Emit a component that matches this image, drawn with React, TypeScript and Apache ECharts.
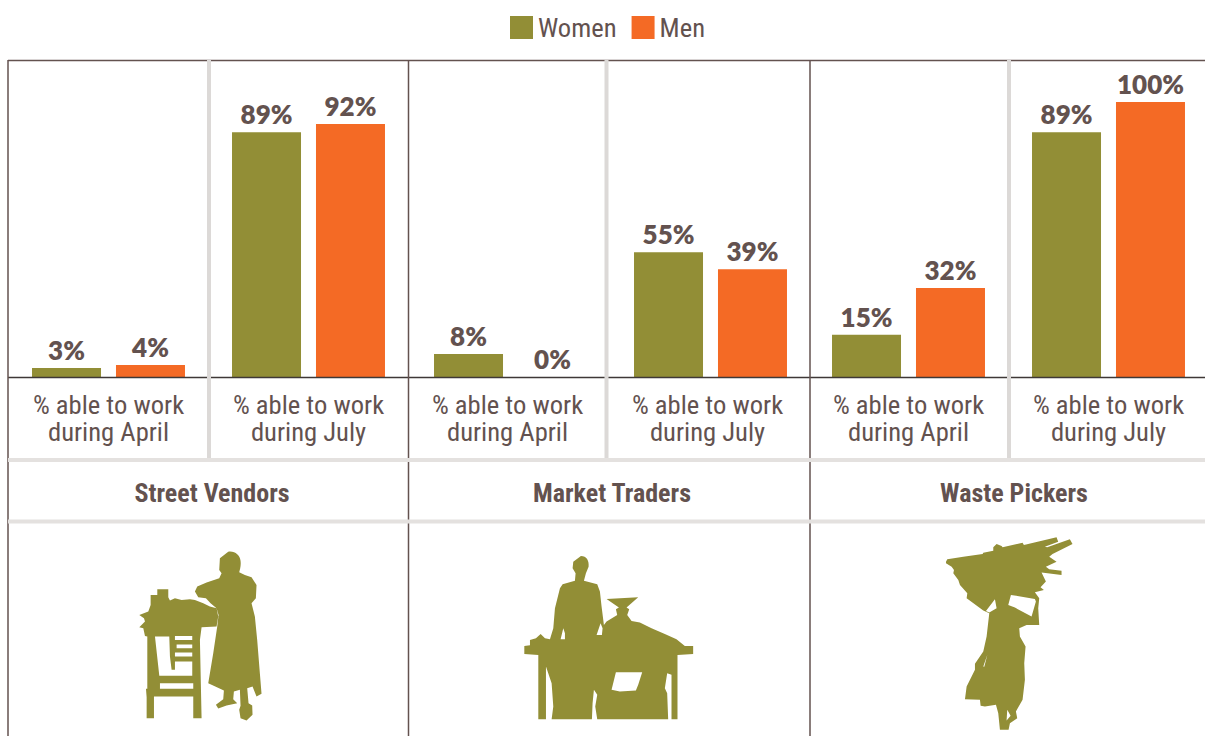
import React, { useEffect, useRef } from "react";
import * as echarts from "echarts";

const periods = [
  "% able to work\nduring April",
  "% able to work\nduring July",
  "% able to work\nduring April",
  "% able to work\nduring July",
  "% able to work\nduring April",
  "% able to work\nduring July",
];
const womenValues = [3.3, 89, 8.4, 45.4, 15.4, 89];
const menValues = [4.4, 92, 0, 39.2, 32.4, 100];
const womenLabels = ["3%", "89%", "8%", "55%", "15%", "89%"];
const menLabels = ["4%", "92%", "0%", "39%", "32%", "100%"];
const sectors = ["Street Vendors", "Market Traders", "Waste Pickers"];
const panelCentres = [108.5, 308.5, 510.5, 710.5, 908.5, 1108.5];
const labelShifts = [0, 0, 6, 6, 0, 0];
const sectorCentres = [212, 612, 1014];

const OLIVE = "#928e36";
const ORANGE = "#f46a25";
const TEXT = "#63524f";
const GREY = "#dcd9d7";
const GREY_LIGHT = "#e4e1df";
const NARROW = '"Roboto Condensed", "Roboto", sans-serif';

const vendorPath =
  "M325 35C345 32 360 45 362 62C364 78 360 88 358 97L375 105L395 112L410 135L408 175L395 190L405 230L412 300L420 400L425 462L410 470L398 440L382 445L386 490L397 497L398 525L380 542L362 535L358 510L362 498L360 450L342 455L340 478L352 490L320 497L295 506L288 495L310 478L312 452L265 430L280 340L292 260L296 225L290 205L272 190L258 175L235 172L225 155L232 140L260 128L298 115L305 100L298 90L300 55Z" +
  "M112 148L145 148L145 172L150 182L165 175L185 180L210 178L225 180L250 190L270 200L290 205L295 230L290 260L245 262L240 300L245 535L220 535L220 470L102 470L102 535L80 535L80 472L78 447L82 447L82 290L75 288L70 265L58 262L75 245L72 235L58 225L85 215L92 195L92 165L112 165Z" +
  "M105 290L118 408L217 408L217 365L165 365L165 390L155 390L150 350L148 290Z" +
  "M165 288L165 300L217 300L217 288Z" +
  "M170 314L170 325L217 325L217 314Z" +
  "M165 338L165 350L217 350L217 338Z" +
  "M120 430L120 447L220 447L220 430Z";

const traderPath =
  "M213 48C230 48 238 62 236 80L228 100L222 122L262 133L270 155L275 200L282 255L290 245L322 225L318 208L327 203L290 177L385 172L350 203L358 208L352 225L365 243L390 248L425 265L465 282L500 298L525 318L550 318L550 342L503 345L503 538L485 538L485 405L472 400L465 445L472 460L475 538L262 538L256 500L262 465L252 450L248 490L246 538L125 538L130 500L125 430L108 380L108 538L85 538L85 345L43 342L43 318L60 316L60 300L78 295L92 282L105 295L120 298L130 265L135 205L150 145L158 133L195 122L197 100L188 85L190 65Z" +
  "M318 397L305 450L330 455L378 452L385 435L397 397Z" +
  "M160 265L152 298L165 298L165 280Z" +
  "M272 250L260 285L276 285L278 265Z";

const pickerPath =
  "M48 95L52 88L100 80L158 72L160 68L190 62L190 52L200 42L215 48L218 52L278 38L282 45L380 22L385 35L345 50L352 52L420 28L428 42L368 72L358 80L380 95L348 110L358 118L395 122L395 135L335 128L348 155L332 172L342 180L315 187L328 205L325 235L328 285L290 285L268 295L270 320L287 350L283 400L285 450L278 510L258 545L262 565L240 580L236 600L210 600L205 550L198 525L165 530L152 528L150 510L105 508L110 470L135 420L135 402L160 365L170 320L178 250L160 242L110 205L112 190L90 165L85 150L70 130L72 120L65 110L48 100Z" +
  "M243 195L235 225L255 233L305 260L318 215L315 207Z" +
  "M195 208L168 243L178 248L200 235Z" +
  "M172 375L160 410L163 411Z" +
  "M232 540L230 572L242 558Z";

echarts.graphic.registerShape("vendorFigure", echarts.graphic.extendPath(vendorPath, {}));
echarts.graphic.registerShape("traderFigure", echarts.graphic.extendPath(traderPath, {}));
echarts.graphic.registerShape("pickerFigure", echarts.graphic.extendPath(pickerPath, {}));

const rule = (x1: number, y1: number, x2: number, y2: number, stroke: string, lineWidth: number, z = 10) => ({
  type: "line",
  z,
  silent: true,
  shape: { x1, y1, x2, y2 },
  style: { stroke, lineWidth },
});

const figure = (type: string, x: number, y: number) => ({
  type,
  x,
  y,
  scaleX: 1 / 3,
  scaleY: 1 / 3,
  z: 5,
  silent: true,
  style: { fill: OLIVE },
});

export default function App() {
  const ref = useRef<HTMLDivElement>(null);

  useEffect(() => {
    document.body.style.margin = "0";
    const chart = echarts.init(ref.current!, undefined, { renderer: "svg" });

    const grids = panelCentres.map((c) => ({ left: c - 90, width: 180, top: 102, height: 275 }));
    const xAxes = periods.map((p, i) => ({
      type: "category",
      gridIndex: i,
      data: [p],
      axisLine: { show: false },
      axisTick: { show: false },
      axisLabel: {
        interval: 0,
        margin: 14,
        color: TEXT,
        fontFamily: NARROW,
        fontSize: 26.6,
        lineHeight: 27,
        padding: [0, labelShifts[i], 0, 0],
      },
    }));
    const yAxes = periods.map((_, i) => ({
      type: "value",
      gridIndex: i,
      min: 0,
      max: 100,
      show: false,
      splitLine: { show: false },
    }));
    const makeLabel = (text: string) => ({
      show: true,
      position: "top",
      distance: 5,
      formatter: text,
      color: TEXT,
      fontFamily: "Lato, sans-serif",
      fontWeight: 800,
      fontSize: 26,
    });
    const series = panelCentres.flatMap((_, i) => [
      {
        type: "bar",
        name: "Women",
        xAxisIndex: i,
        yAxisIndex: i,
        barWidth: 69,
        barGap: "21.7%",
        itemStyle: { color: OLIVE },
        label: makeLabel(womenLabels[i]),
        data: [womenValues[i]],
      },
      {
        type: "bar",
        name: "Men",
        xAxisIndex: i,
        yAxisIndex: i,
        barWidth: 69,
        barGap: "21.7%",
        itemStyle: { color: ORANGE },
        label: makeLabel(menLabels[i]),
        data: [menValues[i]],
      },
    ]);

    const graphic = [
      rule(8, 60.5, 1205, 60.5, TEXT, 1.5),
      rule(8, 377.5, 1205, 377.5, "#3f3837", 1.7),
      rule(8, 60, 8, 736, TEXT, 1.5),
      rule(408.5, 60, 408.5, 736, TEXT, 1.5),
      rule(810, 60, 810, 736, TEXT, 1.5),
      rule(209, 60, 209, 459, GREY, 4, 11),
      rule(606.5, 60, 606.5, 459, GREY, 4, 11),
      rule(1009, 60, 1009, 459, GREY, 4, 11),
      rule(8, 460, 1205, 460, GREY_LIGHT, 4, 11),
      rule(8, 521.5, 1205, 521.5, GREY_LIGHT, 4, 11),
      ...sectors.map((s, i) => ({
        type: "text",
        x: sectorCentres[i],
        y: 493,
        silent: true,
        style: {
          text: s,
          fill: TEXT,
          font: `bold 26px ${NARROW}`,
          textAlign: "center",
          textVerticalAlign: "middle",
        },
      })),
      figure("vendorFigure", 120, 540),
      figure("traderFigure", 510, 540),
      figure("pickerFigure", 930, 530),
    ];

    chart.setOption({
      animation: false,
      backgroundColor: "#ffffff",
      legend: {
        left: 510,
        top: 14,
        padding: 0,
        itemWidth: 23,
        itemHeight: 23,
        itemGap: 15,
        icon: "rect",
        data: ["Women", "Men"],
        selectedMode: false,
        textStyle: { color: TEXT, fontFamily: NARROW, fontSize: 26.6 },
      },
      grid: grids,
      xAxis: xAxes,
      yAxis: yAxes,
      series,
      graphic,
    });
    return () => chart.dispose();
  }, []);

  return <div ref={ref} style={{ width: 1205, height: 736 }} />;
}
